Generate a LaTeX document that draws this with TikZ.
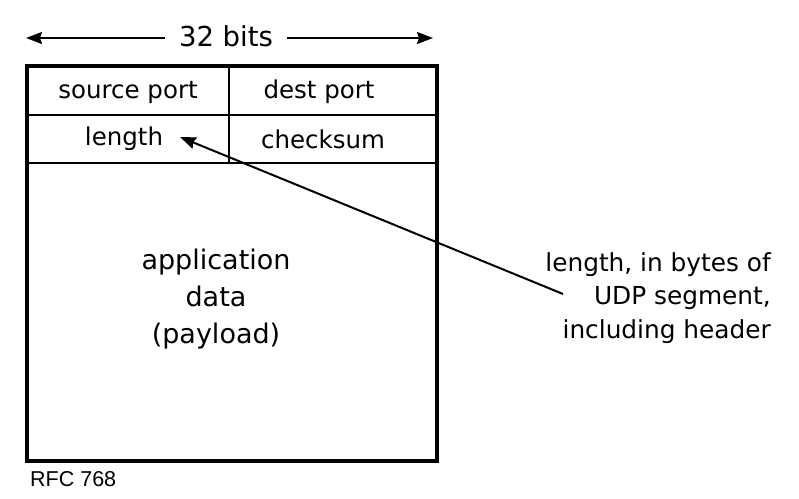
\documentclass[tikz,border=0pt]{standalone}
\usepackage{fontspec}
\setmainfont{DejaVu Sans}
\newfontfamily\arialf{Liberation Sans}
\usetikzlibrary{arrows.meta}
\begin{document}
\begin{tikzpicture}[x=1pt,y=-1pt,
  cell/.style={font=\fontsize{24.5}{28}\selectfont, inner sep=0pt, anchor=center},
  thin/.style={line width=2pt},
  arr/.style={line width=2pt, -{Stealth[length=16pt,width=12pt,inset=2pt]}}]
\useasboundingbox (0,0) rectangle (799,498);
% outer box
\draw[line width=4.2pt] (27,66) rectangle (437,461);
\coordinate (l1) at (27,115); \coordinate (r1) at (437,115);
\coordinate (l2) at (27,163); \coordinate (r2) at (437,163);
\coordinate (vt) at (229,66); \coordinate (vb) at (229,163);
\draw[thin] (l1) -- (r1);
\draw[thin] (l2) -- (r2);
\draw[thin] (vt) -- (vb);
% header
\node[font=\fontsize{27.5}{30}\selectfont, inner sep=0pt] (bits) at (226,36) {32 bits};
\coordinate (bl) at (26,38); \coordinate (br) at (433,38);
\draw[arr] ([xshift=-14pt]bits.west |- bl) -- (bl);
\draw[arr] ([xshift=14pt]bits.east |- br) -- (br);
% cells
\node[cell] (src) at (128,92) {source port};
\node[cell] (dst) at (319,92) {dest port};
\node[cell] (len) at (124,139) {length};
\node[cell] (chk) at (323,139) {checksum};
\node[font=\fontsize{27}{37}\selectfont, align=center, inner sep=0pt] (app) at (216,299) {application\\data\\(payload)};
% annotation
\node[font=\fontsize{24.8}{33.5}\selectfont, align=right, inner sep=0pt, anchor=east] (note) at (771,298) {length, in bytes of\\UDP segment,\\including header};
\coordinate (start) at (563,294);
\coordinate (tip) at (180,137);
\draw[arr] (start) -- (tip);
\node[font=\arialf\fontsize{21.5}{24}\selectfont, inner sep=0pt, anchor=west] (rfc) at (30,479) {RFC 768};
\end{tikzpicture}
\end{document}
